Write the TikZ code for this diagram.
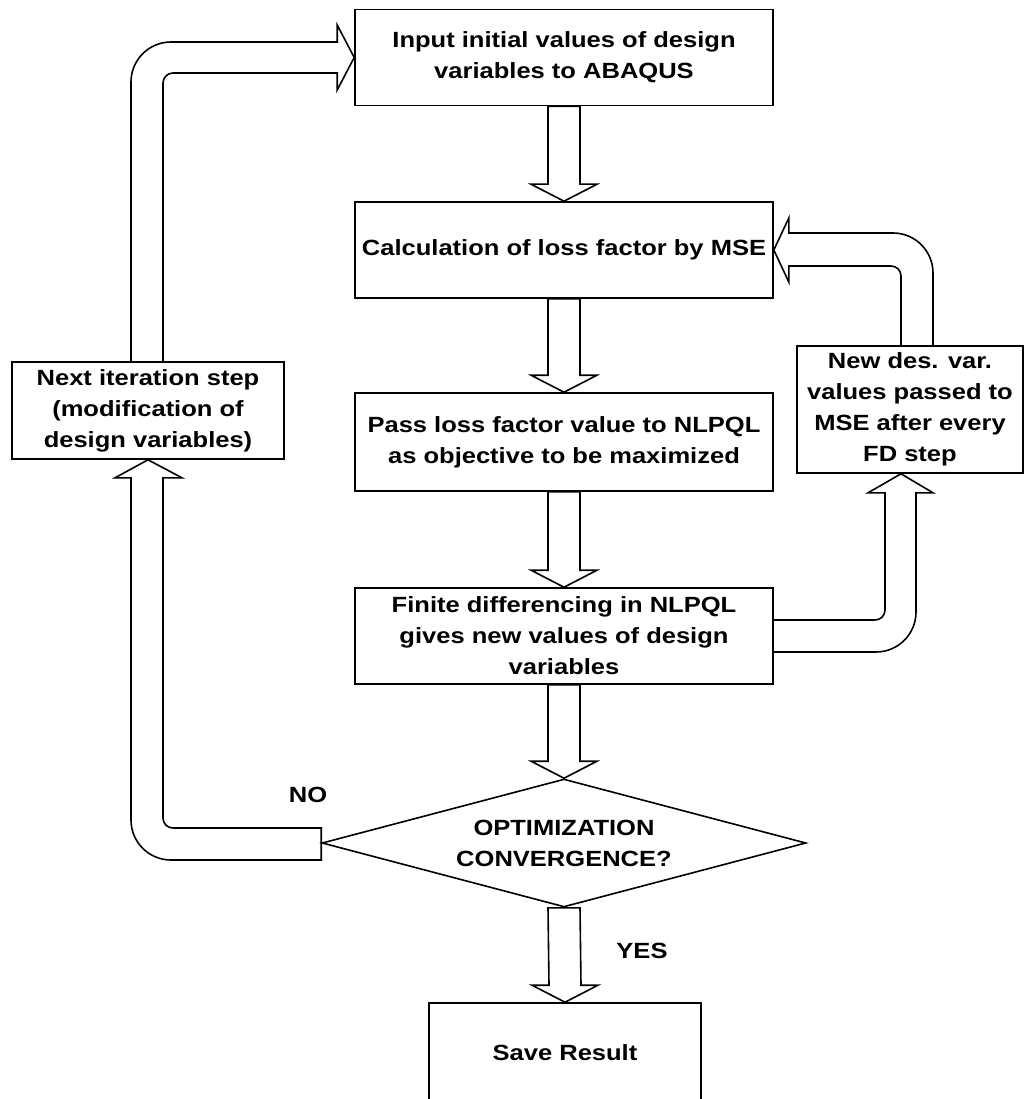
\documentclass[tikz,border=0pt]{standalone}
\usepackage{fontspec}
\setmainfont{Liberation Sans}[FakeStretch=1.16]
\usetikzlibrary{calc,shapes.geometric}

\begin{document}
\begin{tikzpicture}[x=1pt,y=-1pt,line width=1.6pt,
    fatdown/.style={to path={($(\tikztostart)+(-16,0)$) -- ($(\tikztotarget)+(-16,-17)$)
      -- ($(\tikztotarget)+(-33,-17)$) -- (\tikztotarget) -- ($(\tikztotarget)+(33,-17)$)
      -- ($(\tikztotarget)+(16,-17)$) -- ($(\tikztostart)+(16,0)$) -- cycle}}]

      \useasboundingbox (0,0) rectangle (1025,1099);

      \begin{scope}[every node/.style={rectangle,draw,align=center,inner sep=0pt,
          minimum width=418,minimum height=96,font=\bfseries\fontsize{22}{31}\selectfont}]
        \node (1) at (564,57.5) {Input initial values of design\\variables to ABAQUS};
        \node (2) at (564,250)  {Calculation of loss factor by MSE};
        \node (3) at (564,442)  [minimum height=98] {Pass loss factor value to NLPQL\\as objective to be maximized};
        \node (4) at (564,636)  {Finite differencing in NLPQL\\gives new values of design\\variables};
        \node (5) at (564,843)  [diamond,aspect=3.78,minimum width=484,minimum height=128] {OPTIMIZATION\\CONVERGENCE?};
        \node (6) at (565,1053) [minimum width=272,minimum height=100] {Save Result};
        \node (7) at (148,410.5) [minimum width=272,minimum height=97] {Next iteration step\\(modification of\\design variables)};
        \node (8) at (910,409.5) [minimum width=226,minimum height=127] {New des. var.\\values passed to\\MSE after every\\FD step};
      \end{scope}

      \begin{scope}[every node/.style={font=\bfseries\fontsize{22}{31}\selectfont}]
        \node (no)  at (308,795) {NO};
        \node (yes) at (642,951) {YES};
      \end{scope}

      \begin{scope}[every edge/.style={draw}]
        \path (1.south) edge[fatdown] (2.north);
        \path (2.south) edge[fatdown] (3.north);
        \path (3.south) edge[fatdown] (4.north);
        \path (4.south) edge[fatdown] (5.north);
        \path (5.south) edge[fatdown] (6.north);
      \end{scope}

      \draw ($(5.west)+(0,-15)$) [rounded corners=10pt] -| ($(7.south)+(15,40)$) [sharp corners]
        -- ($(7.south)+(15,18)$) -- ++(19,0) -- (7.south) -- ($(7.south)+(-33,18)$) -- ++(16,0)
        [rounded corners=40pt] |- ($(5.west)+(-40,17)$) [sharp corners] -- ($(5.west)+(0,17)$) -- cycle;
      \draw ($(7.north)+(-17,0)$) [rounded corners=40pt] |- ($(1.west)+(-60,-15.5)$) [sharp corners]
        -- ($(1.west)+(-17,-15.5)$) -- ++(0,-17) -- (1.west) -- ($(1.west)+(-17,32.5)$) -- ++(0,-17)
        [rounded corners=10pt] -| ($(7.north)+(15,0)$);
      \draw ($(4.east)+(0,-16)$) [rounded corners=10pt] -| ($(8.south)+(-25,40)$) [sharp corners]
        -- ($(8.south)+(-25,19)$) -- ($(8.south)+(-42,19)$) -- ($(8.south)+(-9,0)$) -- ($(8.south)+(23,19)$)
        -- ($(8.south)+(6,19)$) [rounded corners=40pt] |- ($(4.east)+(0,16)$);
      \draw ($(8.north)+(-9,0)$) [rounded corners=10pt] |- ($(2.east)+(40,16)$) [sharp corners]
        -- ($(2.east)+(15,16)$) -- ++(0,16) -- (2.east) -- ($(2.east)+(15,-32)$) -- ++(0,15)
        [rounded corners=40pt] -| ($(8.north)+(23,0)$);

    \end{tikzpicture}
\end{document}
